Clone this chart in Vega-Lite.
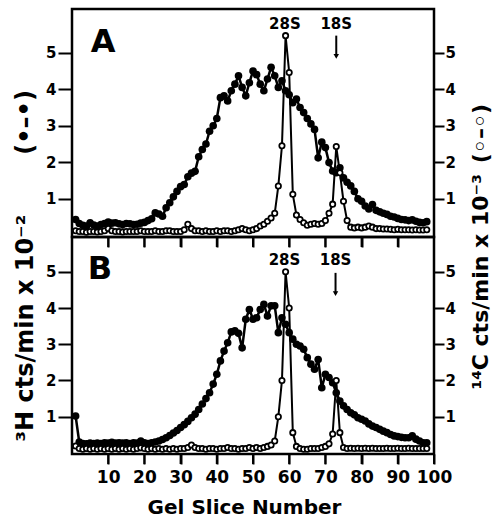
{
  "$schema": "https://vega.github.io/schema/vega-lite/v6.json",
  "padding": {"left": 11, "top": 7, "right": 0, "bottom": 65},
  "bounds": "flush",
  "spacing": 0,
  "background": "white",
  "config": {
    "view": {"stroke": "black", "strokeWidth": 2.5},
    "font": "DejaVu Sans",
    "axis": {"labelFont": "DejaVu Sans", "labelFontWeight": "bold", "labelColor": "black", "tickColor": "black", "tickWidth": 2, "grid": false, "domain": false, "titleFont": "DejaVu Sans", "titleFontWeight": "bold", "titleColor": "black"}
  },
  "datasets": {
    "pts": [
      {"p":"A","s":"H","x":1,"v":0.43},{"p":"A","s":"H","x":2,"v":0.32},{"p":"A","s":"H","x":3,"v":0.27},{"p":"A","s":"H","x":4,"v":0.25},{"p":"A","s":"H","x":5,"v":0.34},{"p":"A","s":"H","x":6,"v":0.28},{"p":"A","s":"H","x":7,"v":0.25},{"p":"A","s":"H","x":8,"v":0.29},{"p":"A","s":"H","x":9,"v":0.32},{"p":"A","s":"H","x":10,"v":0.36},
      {"p":"A","s":"H","x":11,"v":0.33},{"p":"A","s":"H","x":12,"v":0.34},{"p":"A","s":"H","x":13,"v":0.31},{"p":"A","s":"H","x":14,"v":0.29},{"p":"A","s":"H","x":15,"v":0.32},{"p":"A","s":"H","x":16,"v":0.31},{"p":"A","s":"H","x":17,"v":0.29},{"p":"A","s":"H","x":18,"v":0.3},{"p":"A","s":"H","x":19,"v":0.33},{"p":"A","s":"H","x":20,"v":0.35},
      {"p":"A","s":"H","x":21,"v":0.4},{"p":"A","s":"H","x":22,"v":0.45},{"p":"A","s":"H","x":23,"v":0.61},{"p":"A","s":"H","x":24,"v":0.58},{"p":"A","s":"H","x":25,"v":0.52},{"p":"A","s":"H","x":26,"v":0.75},{"p":"A","s":"H","x":27,"v":0.89},{"p":"A","s":"H","x":28,"v":1.05},{"p":"A","s":"H","x":29,"v":1.2},{"p":"A","s":"H","x":30,"v":1.33},
      {"p":"A","s":"H","x":31,"v":1.39},{"p":"A","s":"H","x":32,"v":1.6},{"p":"A","s":"H","x":33,"v":1.7},{"p":"A","s":"H","x":34,"v":1.75},{"p":"A","s":"H","x":35,"v":2.15},{"p":"A","s":"H","x":36,"v":2.35},{"p":"A","s":"H","x":37,"v":2.5},{"p":"A","s":"H","x":38,"v":2.85},{"p":"A","s":"H","x":39,"v":3.0},{"p":"A","s":"H","x":40,"v":3.2},
      {"p":"A","s":"H","x":41,"v":3.77},{"p":"A","s":"H","x":42,"v":3.82},{"p":"A","s":"H","x":43,"v":3.68},{"p":"A","s":"H","x":44,"v":3.96},{"p":"A","s":"H","x":45,"v":4.14},{"p":"A","s":"H","x":46,"v":4.37},{"p":"A","s":"H","x":47,"v":4.05},{"p":"A","s":"H","x":48,"v":3.82},{"p":"A","s":"H","x":49,"v":4.18},{"p":"A","s":"H","x":50,"v":4.5},
      {"p":"A","s":"H","x":51,"v":4.4},{"p":"A","s":"H","x":52,"v":4.14},{"p":"A","s":"H","x":53,"v":3.96},{"p":"A","s":"H","x":54,"v":4.28},{"p":"A","s":"H","x":55,"v":4.6},{"p":"A","s":"H","x":56,"v":4.37},{"p":"A","s":"H","x":57,"v":4.05},{"p":"A","s":"H","x":58,"v":4.23},{"p":"A","s":"H","x":59,"v":3.96},{"p":"A","s":"H","x":60,"v":3.85},
      {"p":"A","s":"H","x":61,"v":3.63},{"p":"A","s":"H","x":62,"v":3.73},{"p":"A","s":"H","x":63,"v":3.5},{"p":"A","s":"H","x":64,"v":3.36},{"p":"A","s":"H","x":65,"v":3.2},{"p":"A","s":"H","x":66,"v":3.05},{"p":"A","s":"H","x":67,"v":2.9},{"p":"A","s":"H","x":68,"v":2.12},{"p":"A","s":"H","x":69,"v":2.55},{"p":"A","s":"H","x":70,"v":2.4},
      {"p":"A","s":"H","x":71,"v":1.99},{"p":"A","s":"H","x":72,"v":1.76},{"p":"A","s":"H","x":73,"v":1.71},{"p":"A","s":"H","x":74,"v":1.85},{"p":"A","s":"H","x":75,"v":1.57},{"p":"A","s":"H","x":76,"v":1.45},{"p":"A","s":"H","x":77,"v":1.35},{"p":"A","s":"H","x":78,"v":1.2},{"p":"A","s":"H","x":79,"v":1.0},{"p":"A","s":"H","x":80,"v":0.93},
      {"p":"A","s":"H","x":81,"v":0.8},{"p":"A","s":"H","x":82,"v":0.72},{"p":"A","s":"H","x":83,"v":0.84},{"p":"A","s":"H","x":84,"v":0.68},{"p":"A","s":"H","x":85,"v":0.64},{"p":"A","s":"H","x":86,"v":0.6},{"p":"A","s":"H","x":87,"v":0.57},{"p":"A","s":"H","x":88,"v":0.52},{"p":"A","s":"H","x":89,"v":0.5},{"p":"A","s":"H","x":90,"v":0.46},
      {"p":"A","s":"H","x":91,"v":0.43},{"p":"A","s":"H","x":92,"v":0.42},{"p":"A","s":"H","x":93,"v":0.4},{"p":"A","s":"H","x":94,"v":0.42},{"p":"A","s":"H","x":95,"v":0.38},{"p":"A","s":"H","x":96,"v":0.35},{"p":"A","s":"H","x":97,"v":0.34},{"p":"A","s":"H","x":98,"v":0.37},

      {"p":"A","s":"C","x":1,"v":0.12},{"p":"A","s":"C","x":2,"v":0.1},{"p":"A","s":"C","x":3,"v":0.1},{"p":"A","s":"C","x":4,"v":0.08},{"p":"A","s":"C","x":5,"v":0.1},{"p":"A","s":"C","x":6,"v":0.1},{"p":"A","s":"C","x":7,"v":0.09},{"p":"A","s":"C","x":8,"v":0.1},{"p":"A","s":"C","x":9,"v":0.12},{"p":"A","s":"C","x":10,"v":0.18},
      {"p":"A","s":"C","x":11,"v":0.12},{"p":"A","s":"C","x":12,"v":0.1},{"p":"A","s":"C","x":13,"v":0.1},{"p":"A","s":"C","x":14,"v":0.09},{"p":"A","s":"C","x":15,"v":0.1},{"p":"A","s":"C","x":16,"v":0.1},{"p":"A","s":"C","x":17,"v":0.1},{"p":"A","s":"C","x":18,"v":0.1},{"p":"A","s":"C","x":19,"v":0.12},{"p":"A","s":"C","x":20,"v":0.1},
      {"p":"A","s":"C","x":21,"v":0.1},{"p":"A","s":"C","x":22,"v":0.1},{"p":"A","s":"C","x":23,"v":0.12},{"p":"A","s":"C","x":24,"v":0.1},{"p":"A","s":"C","x":25,"v":0.1},{"p":"A","s":"C","x":26,"v":0.12},{"p":"A","s":"C","x":27,"v":0.12},{"p":"A","s":"C","x":28,"v":0.1},{"p":"A","s":"C","x":29,"v":0.1},{"p":"A","s":"C","x":30,"v":0.1},
      {"p":"A","s":"C","x":31,"v":0.15},{"p":"A","s":"C","x":32,"v":0.3},{"p":"A","s":"C","x":33,"v":0.18},{"p":"A","s":"C","x":34,"v":0.12},{"p":"A","s":"C","x":35,"v":0.12},{"p":"A","s":"C","x":36,"v":0.1},{"p":"A","s":"C","x":37,"v":0.12},{"p":"A","s":"C","x":38,"v":0.1},{"p":"A","s":"C","x":39,"v":0.1},{"p":"A","s":"C","x":40,"v":0.12},
      {"p":"A","s":"C","x":41,"v":0.1},{"p":"A","s":"C","x":42,"v":0.12},{"p":"A","s":"C","x":43,"v":0.12},{"p":"A","s":"C","x":44,"v":0.1},{"p":"A","s":"C","x":45,"v":0.12},{"p":"A","s":"C","x":46,"v":0.15},{"p":"A","s":"C","x":47,"v":0.18},{"p":"A","s":"C","x":48,"v":0.15},{"p":"A","s":"C","x":49,"v":0.12},{"p":"A","s":"C","x":50,"v":0.15},
      {"p":"A","s":"C","x":51,"v":0.18},{"p":"A","s":"C","x":52,"v":0.25},{"p":"A","s":"C","x":53,"v":0.3},{"p":"A","s":"C","x":54,"v":0.38},{"p":"A","s":"C","x":55,"v":0.47},{"p":"A","s":"C","x":56,"v":0.6},{"p":"A","s":"C","x":57,"v":1.35},{"p":"A","s":"C","x":58,"v":2.45},{"p":"A","s":"C","x":59,"v":5.47},{"p":"A","s":"C","x":60,"v":4.46},
      {"p":"A","s":"C","x":61,"v":1.12},{"p":"A","s":"C","x":62,"v":0.55},{"p":"A","s":"C","x":63,"v":0.43},{"p":"A","s":"C","x":64,"v":0.34},{"p":"A","s":"C","x":65,"v":0.27},{"p":"A","s":"C","x":66,"v":0.3},{"p":"A","s":"C","x":67,"v":0.32},{"p":"A","s":"C","x":68,"v":0.3},{"p":"A","s":"C","x":69,"v":0.32},{"p":"A","s":"C","x":70,"v":0.4},
      {"p":"A","s":"C","x":71,"v":0.6},{"p":"A","s":"C","x":72,"v":0.85},{"p":"A","s":"C","x":73,"v":2.43},{"p":"A","s":"C","x":74,"v":1.71},{"p":"A","s":"C","x":75,"v":0.93},{"p":"A","s":"C","x":76,"v":0.4},{"p":"A","s":"C","x":77,"v":0.22},{"p":"A","s":"C","x":78,"v":0.2},{"p":"A","s":"C","x":79,"v":0.22},{"p":"A","s":"C","x":80,"v":0.2},
      {"p":"A","s":"C","x":81,"v":0.22},{"p":"A","s":"C","x":82,"v":0.25},{"p":"A","s":"C","x":83,"v":0.22},{"p":"A","s":"C","x":84,"v":0.18},{"p":"A","s":"C","x":85,"v":0.18},{"p":"A","s":"C","x":86,"v":0.17},{"p":"A","s":"C","x":87,"v":0.17},{"p":"A","s":"C","x":88,"v":0.16},{"p":"A","s":"C","x":89,"v":0.15},{"p":"A","s":"C","x":90,"v":0.16},
      {"p":"A","s":"C","x":91,"v":0.15},{"p":"A","s":"C","x":92,"v":0.15},{"p":"A","s":"C","x":93,"v":0.15},{"p":"A","s":"C","x":94,"v":0.14},{"p":"A","s":"C","x":95,"v":0.15},{"p":"A","s":"C","x":96,"v":0.14},{"p":"A","s":"C","x":97,"v":0.14},{"p":"A","s":"C","x":98,"v":0.15},

      {"p":"B","s":"H","x":1,"v":1.02},{"p":"B","s":"H","x":2,"v":0.3},{"p":"B","s":"H","x":3,"v":0.26},{"p":"B","s":"H","x":4,"v":0.25},{"p":"B","s":"H","x":5,"v":0.27},{"p":"B","s":"H","x":6,"v":0.26},{"p":"B","s":"H","x":7,"v":0.27},{"p":"B","s":"H","x":8,"v":0.26},{"p":"B","s":"H","x":9,"v":0.28},{"p":"B","s":"H","x":10,"v":0.27},
      {"p":"B","s":"H","x":11,"v":0.29},{"p":"B","s":"H","x":12,"v":0.27},{"p":"B","s":"H","x":13,"v":0.28},{"p":"B","s":"H","x":14,"v":0.27},{"p":"B","s":"H","x":15,"v":0.28},{"p":"B","s":"H","x":16,"v":0.26},{"p":"B","s":"H","x":17,"v":0.28},{"p":"B","s":"H","x":18,"v":0.27},{"p":"B","s":"H","x":19,"v":0.33},{"p":"B","s":"H","x":20,"v":0.28},
      {"p":"B","s":"H","x":21,"v":0.26},{"p":"B","s":"H","x":22,"v":0.28},{"p":"B","s":"H","x":23,"v":0.3},{"p":"B","s":"H","x":24,"v":0.33},{"p":"B","s":"H","x":25,"v":0.37},{"p":"B","s":"H","x":26,"v":0.42},{"p":"B","s":"H","x":27,"v":0.48},{"p":"B","s":"H","x":28,"v":0.55},{"p":"B","s":"H","x":29,"v":0.62},{"p":"B","s":"H","x":30,"v":0.7},
      {"p":"B","s":"H","x":31,"v":0.78},{"p":"B","s":"H","x":32,"v":0.87},{"p":"B","s":"H","x":33,"v":0.97},{"p":"B","s":"H","x":34,"v":1.07},{"p":"B","s":"H","x":35,"v":1.2},{"p":"B","s":"H","x":36,"v":1.35},{"p":"B","s":"H","x":37,"v":1.5},{"p":"B","s":"H","x":38,"v":1.66},{"p":"B","s":"H","x":39,"v":1.9},{"p":"B","s":"H","x":40,"v":2.17},
      {"p":"B","s":"H","x":41,"v":2.54},{"p":"B","s":"H","x":42,"v":2.81},{"p":"B","s":"H","x":43,"v":3.04},{"p":"B","s":"H","x":44,"v":3.34},{"p":"B","s":"H","x":45,"v":3.37},{"p":"B","s":"H","x":46,"v":3.3},{"p":"B","s":"H","x":47,"v":2.9},{"p":"B","s":"H","x":48,"v":3.69},{"p":"B","s":"H","x":49,"v":3.96},{"p":"B","s":"H","x":50,"v":3.69},
      {"p":"B","s":"H","x":51,"v":3.73},{"p":"B","s":"H","x":52,"v":3.96},{"p":"B","s":"H","x":53,"v":4.1},{"p":"B","s":"H","x":54,"v":3.78},{"p":"B","s":"H","x":55,"v":4.06},{"p":"B","s":"H","x":56,"v":4.06},{"p":"B","s":"H","x":57,"v":3.32},{"p":"B","s":"H","x":58,"v":3.73},{"p":"B","s":"H","x":59,"v":3.55},{"p":"B","s":"H","x":60,"v":3.32},
      {"p":"B","s":"H","x":61,"v":3.14},{"p":"B","s":"H","x":62,"v":3.0},{"p":"B","s":"H","x":63,"v":2.95},{"p":"B","s":"H","x":64,"v":2.86},{"p":"B","s":"H","x":65,"v":2.63},{"p":"B","s":"H","x":66,"v":2.45},{"p":"B","s":"H","x":67,"v":2.31},{"p":"B","s":"H","x":68,"v":2.58},{"p":"B","s":"H","x":69,"v":1.8},{"p":"B","s":"H","x":70,"v":2.17},
      {"p":"B","s":"H","x":71,"v":2.08},{"p":"B","s":"H","x":72,"v":1.94},{"p":"B","s":"H","x":73,"v":1.66},{"p":"B","s":"H","x":74,"v":1.43},{"p":"B","s":"H","x":75,"v":1.3},{"p":"B","s":"H","x":76,"v":1.2},{"p":"B","s":"H","x":77,"v":1.11},{"p":"B","s":"H","x":78,"v":1.05},{"p":"B","s":"H","x":79,"v":0.97},{"p":"B","s":"H","x":80,"v":0.93},
      {"p":"B","s":"H","x":81,"v":0.88},{"p":"B","s":"H","x":82,"v":0.8},{"p":"B","s":"H","x":83,"v":0.74},{"p":"B","s":"H","x":84,"v":0.7},{"p":"B","s":"H","x":85,"v":0.65},{"p":"B","s":"H","x":86,"v":0.6},{"p":"B","s":"H","x":87,"v":0.56},{"p":"B","s":"H","x":88,"v":0.51},{"p":"B","s":"H","x":89,"v":0.47},{"p":"B","s":"H","x":90,"v":0.45},
      {"p":"B","s":"H","x":91,"v":0.43},{"p":"B","s":"H","x":92,"v":0.42},{"p":"B","s":"H","x":93,"v":0.42},{"p":"B","s":"H","x":94,"v":0.47},{"p":"B","s":"H","x":95,"v":0.38},{"p":"B","s":"H","x":96,"v":0.33},{"p":"B","s":"H","x":97,"v":0.28},{"p":"B","s":"H","x":98,"v":0.28},

      {"p":"B","s":"C","x":1,"v":0.19},{"p":"B","s":"C","x":2,"v":0.12},{"p":"B","s":"C","x":3,"v":0.1},{"p":"B","s":"C","x":4,"v":0.12},{"p":"B","s":"C","x":5,"v":0.1},{"p":"B","s":"C","x":6,"v":0.12},{"p":"B","s":"C","x":7,"v":0.1},{"p":"B","s":"C","x":8,"v":0.12},{"p":"B","s":"C","x":9,"v":0.1},{"p":"B","s":"C","x":10,"v":0.12},
      {"p":"B","s":"C","x":11,"v":0.1},{"p":"B","s":"C","x":12,"v":0.12},{"p":"B","s":"C","x":13,"v":0.1},{"p":"B","s":"C","x":14,"v":0.12},{"p":"B","s":"C","x":15,"v":0.1},{"p":"B","s":"C","x":16,"v":0.12},{"p":"B","s":"C","x":17,"v":0.1},{"p":"B","s":"C","x":18,"v":0.12},{"p":"B","s":"C","x":19,"v":0.14},{"p":"B","s":"C","x":20,"v":0.12},
      {"p":"B","s":"C","x":21,"v":0.1},{"p":"B","s":"C","x":22,"v":0.12},{"p":"B","s":"C","x":23,"v":0.1},{"p":"B","s":"C","x":24,"v":0.12},{"p":"B","s":"C","x":25,"v":0.1},{"p":"B","s":"C","x":26,"v":0.12},{"p":"B","s":"C","x":27,"v":0.1},{"p":"B","s":"C","x":28,"v":0.12},{"p":"B","s":"C","x":29,"v":0.1},{"p":"B","s":"C","x":30,"v":0.12},
      {"p":"B","s":"C","x":31,"v":0.12},{"p":"B","s":"C","x":32,"v":0.15},{"p":"B","s":"C","x":33,"v":0.22},{"p":"B","s":"C","x":34,"v":0.15},{"p":"B","s":"C","x":35,"v":0.12},{"p":"B","s":"C","x":36,"v":0.12},{"p":"B","s":"C","x":37,"v":0.1},{"p":"B","s":"C","x":38,"v":0.12},{"p":"B","s":"C","x":39,"v":0.12},{"p":"B","s":"C","x":40,"v":0.1},
      {"p":"B","s":"C","x":41,"v":0.12},{"p":"B","s":"C","x":42,"v":0.12},{"p":"B","s":"C","x":43,"v":0.15},{"p":"B","s":"C","x":44,"v":0.12},{"p":"B","s":"C","x":45,"v":0.12},{"p":"B","s":"C","x":46,"v":0.1},{"p":"B","s":"C","x":47,"v":0.12},{"p":"B","s":"C","x":48,"v":0.12},{"p":"B","s":"C","x":49,"v":0.15},{"p":"B","s":"C","x":50,"v":0.12},
      {"p":"B","s":"C","x":51,"v":0.15},{"p":"B","s":"C","x":52,"v":0.12},{"p":"B","s":"C","x":53,"v":0.15},{"p":"B","s":"C","x":54,"v":0.18},{"p":"B","s":"C","x":55,"v":0.22},{"p":"B","s":"C","x":56,"v":0.33},{"p":"B","s":"C","x":57,"v":1.0},{"p":"B","s":"C","x":58,"v":2.0},{"p":"B","s":"C","x":59,"v":5.0},{"p":"B","s":"C","x":60,"v":4.0},
      {"p":"B","s":"C","x":61,"v":0.56},{"p":"B","s":"C","x":62,"v":0.18},{"p":"B","s":"C","x":63,"v":0.12},{"p":"B","s":"C","x":64,"v":0.1},{"p":"B","s":"C","x":65,"v":0.1},{"p":"B","s":"C","x":66,"v":0.12},{"p":"B","s":"C","x":67,"v":0.12},{"p":"B","s":"C","x":68,"v":0.12},{"p":"B","s":"C","x":69,"v":0.15},{"p":"B","s":"C","x":70,"v":0.18},
      {"p":"B","s":"C","x":71,"v":0.25},{"p":"B","s":"C","x":72,"v":0.52},{"p":"B","s":"C","x":73,"v":2.0},{"p":"B","s":"C","x":74,"v":0.56},{"p":"B","s":"C","x":75,"v":0.15},{"p":"B","s":"C","x":76,"v":0.12},{"p":"B","s":"C","x":77,"v":0.13},{"p":"B","s":"C","x":78,"v":0.12},{"p":"B","s":"C","x":79,"v":0.13},{"p":"B","s":"C","x":80,"v":0.12},
      {"p":"B","s":"C","x":81,"v":0.13},{"p":"B","s":"C","x":82,"v":0.12},{"p":"B","s":"C","x":83,"v":0.13},{"p":"B","s":"C","x":84,"v":0.12},{"p":"B","s":"C","x":85,"v":0.12},{"p":"B","s":"C","x":86,"v":0.12},{"p":"B","s":"C","x":87,"v":0.13},{"p":"B","s":"C","x":88,"v":0.12},{"p":"B","s":"C","x":89,"v":0.12},{"p":"B","s":"C","x":90,"v":0.13},
      {"p":"B","s":"C","x":91,"v":0.12},{"p":"B","s":"C","x":92,"v":0.12},{"p":"B","s":"C","x":93,"v":0.13},{"p":"B","s":"C","x":94,"v":0.12},{"p":"B","s":"C","x":95,"v":0.12},{"p":"B","s":"C","x":96,"v":0.12},{"p":"B","s":"C","x":97,"v":0.12},{"p":"B","s":"C","x":98,"v":0.12}
    ],
    "ann": [
      {"p":"A","t":"A","x":8.6,"y":5.3,"k":"big"},
      {"p":"B","t":"B","x":7.7,"y":5.09,"k":"big"},
      {"p":"A","t":"28S","x":58.8,"y":5.78,"k":"small"},
      {"p":"A","t":"18S","x":73,"y":5.78,"k":"small"},
      {"p":"B","t":"28S","x":58.7,"y":5.32,"k":"small"},
      {"p":"B","t":"18S","x":72.8,"y":5.32,"k":"small"}
    ],
    "arr": [
      {"p":"A","x":73,"y1":5.47,"y2":4.9},
      {"p":"B","x":72.8,"y1":4.97,"y2":4.4}
    ],
    "tk": [
      {"p":"A","x":10},{"p":"A","x":20},{"p":"A","x":30},{"p":"A","x":40},{"p":"A","x":50},{"p":"A","x":60},{"p":"A","x":70},{"p":"A","x":80},{"p":"A","x":90},
      {"p":"B","x":10},{"p":"B","x":20},{"p":"B","x":30},{"p":"B","x":40},{"p":"B","x":50},{"p":"B","x":60},{"p":"B","x":70},{"p":"B","x":80},{"p":"B","x":90},{"p":"B","x":100}
    ]
  },
  "vconcat": [
    {
      "width": 362,
      "height": 228,
      "layer": [
        {
          "data": {"name": "pts"},
          "transform": [{"filter": "datum.p == 'A' && datum.s == 'H'"}],
          "mark": {"type": "line", "color": "black", "strokeWidth": 2.5, "point": {"filled": true, "color": "black", "size": 58}},
          "encoding": {
            "x": {"field": "x", "type": "quantitative", "scale": {"domain": [0, 100]}, "axis": {"orient": "bottom", "values": [10,20,30,40,50,60,70,80,90], "labels": false, "title": null, "tickSize": 10}},
            "y": {"field": "v", "type": "quantitative", "scale": {"domain": [-0.05, 6.2]}, "axis": {"orient": "left", "values": [1,2,3,4,5], "tickSize": 14, "labelFontSize": 15, "labelPadding": 2, "title": "³H cts/min x 10⁻²\u2003\u2003\u2002(•–•)", "titleFontSize": 24, "titleAngle": 270, "titleX": -47, "titleY": 432, "titleAlign": "left", "titleBaseline": "middle"}}
          }
        },
        {
          "data": {"name": "pts"},
          "transform": [{"filter": "datum.p == 'A' && datum.s == 'C'"}],
          "mark": {"type": "line", "color": "black", "strokeWidth": 2, "point": {"filled": true, "fill": "white", "stroke": "black", "strokeWidth": 1.8, "size": 28}},
          "encoding": {
            "x": {"field": "x", "type": "quantitative", "scale": {"domain": [0, 100]}, "axis": {"orient": "bottom", "values": [10,20,30,40,50,60,70,80,90], "labels": false, "title": null, "tickSize": 10}},
            "y": {"field": "v", "type": "quantitative", "scale": {"domain": [-0.05, 6.2]}, "axis": {"orient": "right", "values": [1,2,3,4,5], "tickSize": 10, "labelFontSize": 15, "labelPadding": 1, "title": "¹⁴C cts/min x 10⁻³\u2002(◦–◦)", "titleFontSize": 22, "titleAngle": 270, "titleX": 46, "titleY": 380, "titleAlign": "left", "titleBaseline": "middle"}}
          }
        },
        {
          "data": {"name": "tk"},
          "transform": [{"filter": "datum.p == 'A'"}],
          "mark": {"type": "rule", "color": "black", "strokeWidth": 2},
          "encoding": {
            "x": {"field": "x", "type": "quantitative", "scale": {"domain": [0, 100]}, "axis": {"orient": "bottom", "values": [10,20,30,40,50,60,70,80,90], "labels": false, "title": null, "tickSize": 10}},
            "y": {"datum": -0.05, "type": "quantitative", "scale": {"domain": [-0.05, 6.2]}, "axis": null},
            "y2": {"datum": -0.324}
          }
        },
        {
          "data": {"name": "ann"},
          "transform": [{"filter": "datum.p == 'A'"}],
          "mark": {"type": "text", "color": "black", "fontWeight": "bold", "font": "DejaVu Sans", "align": "center", "baseline": "middle"},
          "encoding": {
            "x": {"field": "x", "type": "quantitative", "scale": {"domain": [0, 100]}, "axis": {"orient": "bottom", "values": [10,20,30,40,50,60,70,80,90], "labels": false, "title": null, "tickSize": 10}},
            "y": {"field": "y", "type": "quantitative", "scale": {"domain": [-0.05, 6.2]}, "axis": null},
            "text": {"field": "t"},
            "size": {"field": "k", "type": "nominal", "scale": {"domain": ["big", "small"], "range": [32, 15]}, "legend": null}
          }
        },
        {
          "data": {"name": "arr"},
          "transform": [{"filter": "datum.p == 'A'"}],
          "mark": {"type": "rule", "color": "black", "strokeWidth": 2},
          "encoding": {
            "x": {"field": "x", "type": "quantitative", "scale": {"domain": [0, 100]}, "axis": {"orient": "bottom", "values": [10,20,30,40,50,60,70,80,90], "labels": false, "title": null, "tickSize": 10}},
            "y": {"field": "y1", "type": "quantitative", "scale": {"domain": [-0.05, 6.2]}, "axis": null},
            "y2": {"field": "y2"}
          }
        },
        {
          "data": {"name": "arr"},
          "transform": [{"filter": "datum.p == 'A'"}],
          "mark": {"type": "point", "shape": "triangle-down", "filled": true, "color": "black", "size": 30, "opacity": 1},
          "encoding": {
            "x": {"field": "x", "type": "quantitative", "scale": {"domain": [0, 100]}, "axis": {"orient": "bottom", "values": [10,20,30,40,50,60,70,80,90], "labels": false, "title": null, "tickSize": 10}},
            "y": {"field": "y2", "type": "quantitative", "scale": {"domain": [-0.05, 6.2]}, "axis": null}
          }
        }
      ],
      "resolve": {"axis": {"y": "independent"}}
    },
    {
      "width": 362,
      "height": 217,
      "layer": [
        {
          "data": {"name": "pts"},
          "transform": [{"filter": "datum.p == 'B' && datum.s == 'H'"}],
          "mark": {"type": "line", "color": "black", "strokeWidth": 2.5, "point": {"filled": true, "color": "black", "size": 58}},
          "encoding": {
            "x": {"field": "x", "type": "quantitative", "scale": {"domain": [0, 100]}, "axis": {"orient": "bottom", "values": [10,20,30,40,50,60,70,80,90,100], "tickSize": 10, "labelFontSize": 17, "labelPadding": 5, "labelFlush": false, "labelOverlap": false, "title": "Gel Slice Number", "titleFontSize": 20, "titlePadding": 12, "titleX": 172, "titleAlign": "center"}},
            "y": {"field": "v", "type": "quantitative", "scale": {"domain": [-0.03, 5.96]}, "axis": {"orient": "left", "values": [1,2,3,4,5], "tickSize": 14, "labelFontSize": 15, "labelPadding": 2, "title": null}}
          }
        },
        {
          "data": {"name": "pts"},
          "transform": [{"filter": "datum.p == 'B' && datum.s == 'C'"}],
          "mark": {"type": "line", "color": "black", "strokeWidth": 2, "point": {"filled": true, "fill": "white", "stroke": "black", "strokeWidth": 1.8, "size": 28}},
          "encoding": {
            "x": {"field": "x", "type": "quantitative", "scale": {"domain": [0, 100]}, "axis": {"orient": "bottom", "values": [10,20,30,40,50,60,70,80,90,100], "tickSize": 10, "labelFontSize": 17, "labelPadding": 5, "labelFlush": false, "labelOverlap": false, "title": "Gel Slice Number", "titleFontSize": 20, "titlePadding": 12, "titleX": 172, "titleAlign": "center"}},
            "y": {"field": "v", "type": "quantitative", "scale": {"domain": [-0.03, 5.96]}, "axis": {"orient": "right", "values": [1,2,3,4,5], "tickSize": 10, "labelFontSize": 15, "labelPadding": 1, "title": null}}
          }
        },
        {
          "data": {"name": "tk"},
          "transform": [{"filter": "datum.p == 'B'"}],
          "mark": {"type": "rule", "color": "black", "strokeWidth": 2},
          "encoding": {
            "x": {"field": "x", "type": "quantitative", "scale": {"domain": [0, 100]}, "axis": {"orient": "bottom", "values": [10,20,30,40,50,60,70,80,90,100], "tickSize": 10, "labelFontSize": 17, "labelPadding": 5, "labelFlush": false, "labelOverlap": false, "title": "Gel Slice Number", "titleFontSize": 20, "titlePadding": 12, "titleX": 172, "titleAlign": "center"}},
            "y": {"datum": -0.03, "type": "quantitative", "scale": {"domain": [-0.03, 5.96]}, "axis": null},
            "y2": {"datum": -0.306}
          }
        },
        {
          "data": {"name": "ann"},
          "transform": [{"filter": "datum.p == 'B'"}],
          "mark": {"type": "text", "color": "black", "fontWeight": "bold", "font": "DejaVu Sans", "align": "center", "baseline": "middle"},
          "encoding": {
            "x": {"field": "x", "type": "quantitative", "scale": {"domain": [0, 100]}, "axis": {"orient": "bottom", "values": [10,20,30,40,50,60,70,80,90,100], "tickSize": 10, "labelFontSize": 17, "labelPadding": 5, "labelFlush": false, "labelOverlap": false, "title": "Gel Slice Number", "titleFontSize": 20, "titlePadding": 12, "titleX": 172, "titleAlign": "center"}},
            "y": {"field": "y", "type": "quantitative", "scale": {"domain": [-0.03, 5.96]}, "axis": null},
            "text": {"field": "t"},
            "size": {"field": "k", "type": "nominal", "scale": {"domain": ["big", "small"], "range": [32, 15]}, "legend": null}
          }
        },
        {
          "data": {"name": "arr"},
          "transform": [{"filter": "datum.p == 'B'"}],
          "mark": {"type": "rule", "color": "black", "strokeWidth": 2},
          "encoding": {
            "x": {"field": "x", "type": "quantitative", "scale": {"domain": [0, 100]}, "axis": {"orient": "bottom", "values": [10,20,30,40,50,60,70,80,90,100], "tickSize": 10, "labelFontSize": 17, "labelPadding": 5, "labelFlush": false, "labelOverlap": false, "title": "Gel Slice Number", "titleFontSize": 20, "titlePadding": 12, "titleX": 172, "titleAlign": "center"}},
            "y": {"field": "y1", "type": "quantitative", "scale": {"domain": [-0.03, 5.96]}, "axis": null},
            "y2": {"field": "y2"}
          }
        },
        {
          "data": {"name": "arr"},
          "transform": [{"filter": "datum.p == 'B'"}],
          "mark": {"type": "point", "shape": "triangle-down", "filled": true, "color": "black", "size": 30, "opacity": 1},
          "encoding": {
            "x": {"field": "x", "type": "quantitative", "scale": {"domain": [0, 100]}, "axis": {"orient": "bottom", "values": [10,20,30,40,50,60,70,80,90,100], "tickSize": 10, "labelFontSize": 17, "labelPadding": 5, "labelFlush": false, "labelOverlap": false, "title": "Gel Slice Number", "titleFontSize": 20, "titlePadding": 12, "titleX": 172, "titleAlign": "center"}},
            "y": {"field": "y2", "type": "quantitative", "scale": {"domain": [-0.03, 5.96]}, "axis": null}
          }
        }
      ],
      "resolve": {"axis": {"y": "independent"}}
    }
  ]
}
